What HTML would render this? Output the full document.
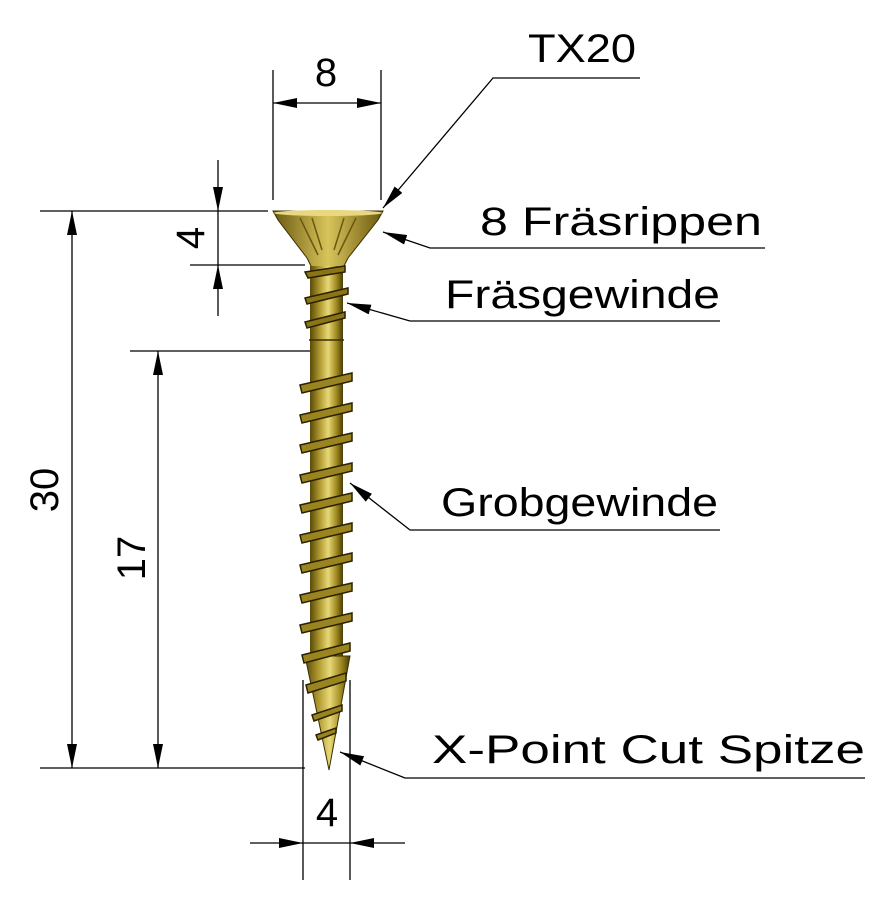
<!DOCTYPE html>
<html><head><meta charset="utf-8"><style>body{margin:0;background:#fff}svg{display:block}</style></head><body>
<svg width="882" height="900" viewBox="0 0 882 900" xmlns="http://www.w3.org/2000/svg">
<defs>
<linearGradient id="g" x1="0" x2="1" y1="0" y2="0">
<stop offset="0" stop-color="#5a4a08"/><stop offset="0.3" stop-color="#b09a30"/><stop offset="0.55" stop-color="#e8d878"/><stop offset="0.8" stop-color="#a08a20"/><stop offset="1" stop-color="#4a3c06"/>
</linearGradient>
<linearGradient id="h" x1="0" x2="1"><stop offset="0" stop-color="#6a5810"/><stop offset="0.5" stop-color="#d8c45a"/><stop offset="1" stop-color="#6a5810"/></linearGradient>
<marker id="a" viewBox="0 0 24 10" refX="24" refY="5" markerWidth="24" markerHeight="10" markerUnits="userSpaceOnUse" orient="auto-start-reverse"><path d="M0,0L24,5L0,10z" fill="#000"/></marker>
</defs>
<g stroke="#000" stroke-width="1.3" fill="none">
<line x1="273" y1="70" x2="273" y2="200"/><line x1="381" y1="70" x2="381" y2="200"/>
<line x1="273" y1="103" x2="381" y2="103" marker-start="url(#a)" marker-end="url(#a)"/>
<line x1="40" y1="211" x2="268" y2="211"/><line x1="40" y1="768" x2="305" y2="768"/>
<line x1="72" y1="211" x2="72" y2="768" marker-start="url(#a)" marker-end="url(#a)"/>
<line x1="130" y1="351" x2="310" y2="351"/>
<line x1="158" y1="351" x2="158" y2="768" marker-start="url(#a)" marker-end="url(#a)"/>
<line x1="190" y1="265" x2="305" y2="265"/>
<line x1="218" y1="160" x2="218" y2="211" marker-end="url(#a)"/>
<line x1="218" y1="316" x2="218" y2="265" marker-end="url(#a)"/>
<line x1="218" y1="211" x2="218" y2="265"/>
<line x1="303" y1="680" x2="303" y2="880"/><line x1="350" y1="680" x2="350" y2="880"/>
<line x1="250" y1="843" x2="303" y2="843" marker-end="url(#a)"/>
<line x1="405" y1="843" x2="350" y2="843" marker-end="url(#a)"/>
<line x1="303" y1="843" x2="350" y2="843"/>
<polyline points="640,78 493,78 383,208" marker-end="url(#a)"/>
<polyline points="765,248 430,248 383,232" marker-end="url(#a)"/>
<polyline points="720,321 410,321 347,303" marker-end="url(#a)"/>
<polyline points="720,530 410,530 350,483" marker-end="url(#a)"/>
<polyline points="865,778 405,778 340,752" marker-end="url(#a)"/>
</g>
<path d="M273,211 L383,211 L378,220 L348,258 L343,268 L312,268 L307,258 L278,220 Z" fill="url(#h)" stroke="#3a3000" stroke-width="1"/>
<ellipse cx="328" cy="213" rx="54" ry="3" fill="#e8d880"/>
<path d="M300,218 L318,255 M356,218 L338,255 M312,218 L322,250 M344,218 L334,250" stroke="#6a5810" stroke-width="1.5"/>
<rect x="310" y="266" width="33" height="390" fill="url(#g)"/>
<path d="M305,656 L350,656 L329,770 Z" fill="url(#g)" stroke="#3a3000" stroke-width="1"/>
<g stroke="#2a2200" stroke-width="1.5" fill="#8a7418">
<path d="M305,272 L345,266 L345,272 L308,278 Z"/>
<path d="M305,298 L348,288 L348,294 L307,304 Z"/>
<path d="M305,322 L345,312 L345,318 L307,328 Z"/>
</g>
<line x1="309" y1="340" x2="344" y2="340" stroke="#3a3000" stroke-width="1.5"/>
<g stroke="#2a2200" stroke-width="1.5" fill="#9a8420">
<path d="M300,385 L352,373 L352,381 L302,393 Z"/>
<path d="M300,415 L352,403 L352,411 L302,423 Z"/>
<path d="M300,445 L352,433 L352,441 L302,453 Z"/>
<path d="M300,475 L352,463 L352,471 L302,483 Z"/>
<path d="M300,505 L352,493 L352,501 L302,513 Z"/>
<path d="M300,535 L352,523 L352,531 L302,543 Z"/>
<path d="M300,565 L352,553 L352,561 L302,573 Z"/>
<path d="M300,595 L352,583 L352,591 L302,603 Z"/>
<path d="M300,625 L352,613 L352,621 L302,633 Z"/>
<path d="M302,655 L350,643 L350,651 L304,663 Z"/>
<path d="M306,685 L346,673 L346,681 L308,693 Z"/>
<path d="M312,715 L342,705 L342,711 L314,721 Z"/>
<path d="M316,735 L336,728 L336,733 L318,740 Z"/>
</g>
<g font-family="'Liberation Sans',sans-serif" font-size="40" fill="#000">
<text x="326" y="86" text-anchor="middle">8</text>
<text x="528" y="62" textLength="108" lengthAdjust="spacingAndGlyphs">TX20</text>
<text x="480" y="235" textLength="282" lengthAdjust="spacingAndGlyphs">8 Fräsrippen</text>
<text x="445" y="308" textLength="275" lengthAdjust="spacingAndGlyphs">Fräsgewinde</text>
<text x="441" y="516" textLength="277" lengthAdjust="spacingAndGlyphs">Grobgewinde</text>
<text x="432" y="763" textLength="433" lengthAdjust="spacingAndGlyphs">X-Point Cut Spitze</text>
<text x="327" y="826" text-anchor="middle">4</text>
<text transform="translate(58,490) rotate(-90)" text-anchor="middle">30</text>
<text transform="translate(145,558) rotate(-90)" text-anchor="middle">17</text>
<text transform="translate(204,238) rotate(-90)" text-anchor="middle">4</text>
</g>
</svg>
</body></html>
